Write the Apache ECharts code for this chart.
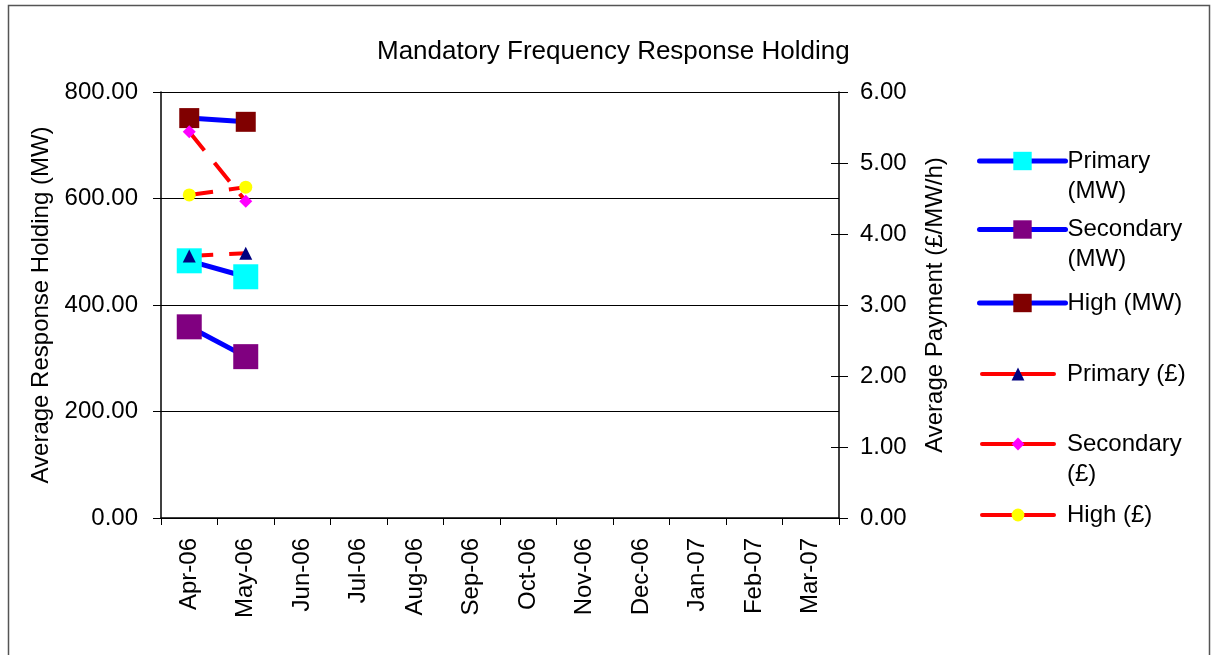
<!DOCTYPE html>
<html>
<head>
<meta charset="utf-8">
<script src="https://cdn.jsdelivr.net/npm/echarts@6/dist/echarts.min.js"></script>
<style>html,body{margin:0;padding:0;background:#fff}#c{width:1211px;height:655px}</style>
</head>
<body>
<div id="c"></div>
<script>
const months = ['Apr-06','May-06','Jun-06','Jul-06','Aug-06','Sep-06','Oct-06','Nov-06','Dec-06','Jan-07','Feb-07','Mar-07'];
const primaryMW = [483, 453];
const secondaryMW = [359, 303];
const highMW = [751, 744];
const primaryGBP = [3.69, 3.73];
const secondaryGBP = [5.44, 4.46];
const highGBP = [4.55, 4.66];
const leftTicks = [0, 200, 400, 600, 800];
const rightTicks = [0, 1, 2, 3, 4, 5, 6];

const FONT = 'Liberation Sans';
const FS = 24;
const chart = echarts.init(document.getElementById('c'));

function mwSeries(name, data, color, size) {
  return {
    name, type: 'line', data, yAxisIndex: 0,
    symbol: 'rect', symbolSize: size,
    lineStyle: { color: '#0000FF', width: 5 },
    itemStyle: { color, borderWidth: 0 },
    emphasis: { disabled: true }
  };
}
function gbpSeries(name, data, color, symbol, size) {
  return {
    name, type: 'line', data, yAxisIndex: 1,
    symbol, symbolSize: size,
    lineStyle: { color: '#FF0000', width: 4, type: [24, 16] },
    itemStyle: { color, borderWidth: 0 },
    emphasis: { disabled: true }
  };
}
function legend(name, top, left, w, h, lw, fmt, pad) {
  return {
    data: [name], orient: 'vertical', left, top, padding: 0,
    itemWidth: w, itemHeight: h, selectedMode: false,
    lineStyle: { width: lw, type: 'solid', cap: 'round' },
    formatter: () => fmt,
    textStyle: { fontFamily: FONT, fontSize: FS, color: '#000', lineHeight: 30, padding: [0, 0, 0, pad] }
  };
}

chart.setOption({
  animation: false,
  backgroundColor: '#fff',
  title: {
    text: 'Mandatory Frequency Response Holding', left: 377, top: 39, padding: 0,
    textStyle: { fontFamily: FONT, fontSize: 26, fontWeight: 'normal', color: '#000' }
  },
  graphic: [{
    type: 'rect', shape: { x: 8.5, y: 5.5, width: 1201, height: 660 },
    style: { fill: 'none', stroke: '#555', lineWidth: 1.5 }, silent: true
  }],
  legend: [
    legend('Primary (MW)', 116, 977, 86, 23, 5, '\nPrimary\n(MW)', -3),
    legend('Secondary (MW)', 184.5, 977, 86, 23, 5, '\nSecondary\n(MW)', -3),
    legend('High (MW)', 288, 977, 86, 23, 5, 'High (MW)', -3),
    legend('Primary (£)', 359, 980, 72, 16, 4, 'Primary (£)', 8),
    legend('Secondary (£)', 399, 980, 72, 16, 4, '\nSecondary\n(£)', 8),
    legend('High (£)', 500, 980, 72, 16, 4, 'High (£)', 8)
  ],
  grid: { left: 161, right: 372, top: 92, bottom: 137, containLabel: false },
  xAxis: {
    type: 'category', data: months, boundaryGap: true,
    axisLine: { lineStyle: { color: '#000', width: 1.5 } },
    axisTick: { show: true, interval: 0, length: 7, lineStyle: { color: '#000' } },
    axisLabel: { interval: 0, rotate: 90, margin: 20, fontFamily: FONT, fontSize: FS, color: '#000' },
    splitLine: { show: false }
  },
  yAxis: [
    {
      type: 'value', min: leftTicks[0], max: leftTicks[leftTicks.length - 1], interval: 200,
      name: 'Average Response Holding (MW)', nameLocation: 'middle', nameGap: 102,
      nameTextStyle: { fontFamily: FONT, fontSize: FS, color: '#000' },
      axisLine: { show: true, lineStyle: { color: '#000', width: 1.5 } },
      axisTick: { show: true, length: 8, lineStyle: { color: '#000' } },
      axisLabel: { margin: 23, fontFamily: FONT, fontSize: FS, color: '#000', formatter: v => v.toFixed(2) },
      splitLine: { show: true, lineStyle: { color: '#000', width: 1 } }
    },
    {
      type: 'value', position: 'right', min: rightTicks[0], max: rightTicks[rightTicks.length - 1], interval: 1,
      name: 'Average Payment (£/MW/h)', nameLocation: 'middle', nameGap: 84,
      nameTextStyle: { fontFamily: FONT, fontSize: FS, color: '#000' },
      axisLine: { show: true, lineStyle: { color: '#000', width: 1.5 } },
      axisTick: { show: true, length: 9, lineStyle: { color: '#000' } },
      axisLabel: { margin: 21, fontFamily: FONT, fontSize: FS, color: '#000', formatter: v => v.toFixed(2) },
      splitLine: { show: false }
    },
    {
      type: 'value', position: 'right', min: rightTicks[0], max: rightTicks[rightTicks.length - 1], interval: 1,
      axisLine: { show: false },
      axisTick: { show: true, inside: true, length: 8, lineStyle: { color: '#000' } },
      axisLabel: { show: false },
      splitLine: { show: false }
    }
  ],
  series: [
    mwSeries('Primary (MW)', primaryMW, '#00FFFF', 25),
    mwSeries('Secondary (MW)', secondaryMW, '#800080', 25),
    mwSeries('High (MW)', highMW, '#800000', 20),
    gbpSeries('Primary (£)', primaryGBP, '#000080', 'triangle', 13),
    gbpSeries('Secondary (£)', secondaryGBP, '#FF00FF', 'diamond', 13),
    gbpSeries('High (£)', highGBP, '#FFFF00', 'circle', 13)
  ]
});
</script>
</body>
</html>
